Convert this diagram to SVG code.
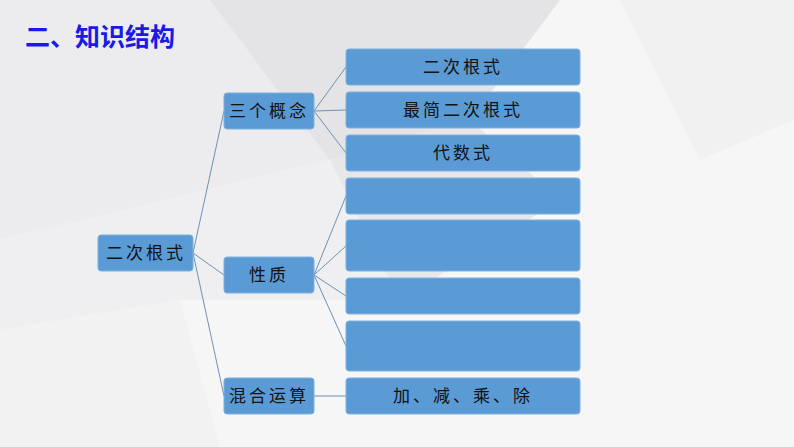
<svg xmlns="http://www.w3.org/2000/svg" width="794" height="447" viewBox="0 0 794 447">
<style>
.b{fill:#5b9bd5;stroke:#7fb0e0;stroke-width:1}
.t{font-family:"Liberation Serif","Noto Sans CJK SC",serif;font-size:17px;fill:#111;text-anchor:middle;dominant-baseline:central;letter-spacing:3px}
.c{stroke:#6f8fb5;stroke-width:1;fill:none}
</style>
<rect width="794" height="447" fill="#f6f6f7"/>
<g id="bg">
<polygon points="0,0 380,0 330,160 0,240" fill="#ececee"/>
<polygon points="210,0 560,0 470,120 330,160" fill="#e4e4e6"/>
<polygon points="0,240 330,160 400,300 180,300 0,330" fill="#efeff1"/>
<polygon points="330,160 470,120 560,200 400,300" fill="#e7e7e9"/>
<polygon points="620,0 794,0 794,120 700,160" fill="#f1f1f2"/>
<polygon points="0,330 180,300 220,447 0,447" fill="#f2f2f3"/>
</g>
<text x="25" y="35" font-family="'Noto Sans CJK SC',sans-serif" font-weight="bold" font-size="25" fill="#1a1ae6" dominant-baseline="central">二、知识结构</text>
<g id="connectors">
<path class="c" d="M193,253 L224,111 M193,253 L224,275 M193,253 L224,396 M314,111 L346,67 M314,111 L346,110 M314,111 L346,153 M314,275 L346,196 M314,275 L346,246 M314,275 L346,296 M314,275 L346,346 M314,396 L346,396"/>
</g>
<g id="root"><rect class="b" x="98" y="235" width="95" height="36" rx="3"/><text class="t" x="146" y="253">二次根式</text></g>
<g id="gainian"><rect class="b" x="224" y="93" width="90" height="36" rx="3"/><text class="t" x="269" y="111">三个概念</text></g>
<g id="xingzhi"><rect class="b" x="224" y="257" width="90" height="36" rx="3"/><text class="t" x="269" y="275">性质</text></g>
<g id="yunsuan"><rect class="b" x="224" y="378" width="90" height="36" rx="3"/><text class="t" x="269" y="396">混合运算</text></g>
<g id="r1"><rect class="b" x="346" y="49" width="234" height="36" rx="3"/><text class="t" x="463" y="67">二次根式</text></g>
<g id="r2"><rect class="b" x="346" y="92" width="234" height="36" rx="3"/><text class="t" x="463" y="110">最简二次根式</text></g>
<g id="r3"><rect class="b" x="346" y="135" width="234" height="36" rx="3"/><text class="t" x="463" y="153">代数式</text></g>
<g id="r4"><rect class="b" x="346" y="178" width="234" height="36" rx="3"/></g>
<g id="r5"><rect class="b" x="346" y="220" width="234" height="51" rx="3"/></g>
<g id="r6"><rect class="b" x="346" y="278" width="234" height="36" rx="3"/></g>
<g id="r7"><rect class="b" x="346" y="321" width="234" height="50" rx="3"/></g>
<g id="r8"><rect class="b" x="346" y="378" width="234" height="36" rx="3"/><text class="t" x="463" y="396">加、减、乘、除</text></g>
</svg>
